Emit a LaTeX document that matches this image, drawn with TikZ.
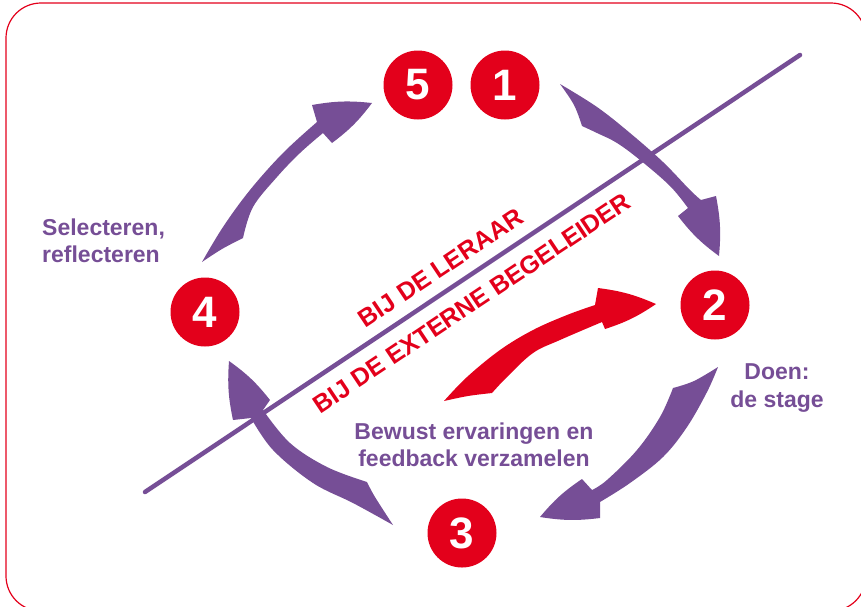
\documentclass[tikz,border=0pt]{standalone}
\usepackage{fontspec}
\setmainfont{Liberation Sans}
\definecolor{cyclepurple}{RGB}{118,78,150}
\definecolor{cyclered}{RGB}{227,0,27}

\begin{document}
\begin{tikzpicture}[x=1pt,y=-1pt,
  stepdisc/.style={circle,fill=cyclered,minimum size=69pt,inner sep=0pt,
    text=white,font=\fontsize{44}{44}\selectfont\bfseries},
  phaselabel/.style={text=cyclepurple,inner sep=0pt,
    font=\fontsize{23}{27.5}\selectfont\bfseries},
  sidelabel/.style={text=cyclered,inner sep=0pt,rotate=33.7,
    font=\fontsize{25}{25}\selectfont\bfseries},
  cyclearrow/.style={fill=cyclepurple},
  edge/.style={smooth,tension=0.6}]

\useasboundingbox (0,0) rectangle (861,606);

% frame
\draw[cyclered,line width=1.2pt,rounded corners=35pt] (6,3) rectangle (866,611);

% tapered arrow 1 -> 2
\fill[cyclearrow]
  plot[edge] coordinates {(560,84) (597,107) (630,133) (663,162) (690,190) (701,200)}
  -- (716,196) to[bend left=8] (719,256) to[bend left=8] (678,216) -- (688,208)
  -- plot[edge] coordinates {(688,208) (670,186) (640,160) (617,143) (597,133) (582,126)}
  -- plot[edge] coordinates {(582,126) (574,105) (560,84)} -- cycle;

% tapered arrow 2 -> 3
\fill[cyclearrow]
  plot[edge] coordinates {(718,367) (707,392) (687,427) (663,457) (630,483) (600,502)}
  -- (600,518) to[bend left=8] (540,517) to[bend left=8] (582,479) -- (592,490)
  -- plot[edge] coordinates {(592,490) (607,480) (637,450) (660,417) (673,388)}
  -- plot[edge] coordinates {(673,388) (694,381) (718,367)} -- cycle;

% tapered arrow 3 -> 4
\fill[cyclearrow]
  plot[edge] coordinates {(393,525) (353,503) (313,483) (273,450) (251,418)}
  -- (233,420) to[bend left=8] (229,361) to[bend left=8] (270,400) -- (263,410)
  -- plot[edge] coordinates {(263,410) (290,443) (327,467) (367,482)}
  -- plot[edge] coordinates {(367,482) (375,497) (393,525)} -- cycle;

% tapered arrow 4 -> 5
\fill[cyclearrow]
  plot[edge] coordinates {(202,262) (223,227) (250,190) (283,153) (317,122)}
  -- (312,105) to[bend left=8] (372,103) to[bend left=8] (332,143) -- (323,133)
  -- plot[edge] coordinates {(323,133) (300,153) (277,177) (253,207) (243,238)}
  -- plot[edge] coordinates {(243,238) (222,249) (202,262)} -- cycle;

% red arrow towards step 2
\fill[cyclered]
  plot[edge] coordinates {(444,401) (467,377) (500,350) (533,330) (567,315) (595,305)}
  -- (598,288) to[bend left=8] (656,304) to[bend left=8] (605,329) -- (602,322)
  -- plot[edge] coordinates {(602,322) (560,340) (533,353) (507,377) (492,393)}
  -- plot[edge] coordinates {(492,393) (468,396) (444,401)} -- cycle;

% dividing line
\coordinate (divA) at (145,492);
\coordinate (divB) at (800,55);
\draw[cyclepurple,line width=4.5pt,line cap=round] (divA) -- (divB);

\node[sidelabel] (leraar) at (441,268) {BIJ DE LERAAR};
\node[sidelabel] (extern) at (472,303) {BIJ DE EXTERNE BEGELEIDER};

% numbered steps
\node[stepdisc] (s5) at (418,85) {5};
\node[stepdisc] (s1) at (505,85) {1};
\node[stepdisc] (s2) at (715,305) {2};
\node[stepdisc] (s3) at (462,533) {3};
\node[stepdisc] (s4) at (205,312) {4};

% phase labels
\node[phaselabel,align=left,anchor=west] (sel) at (42,241) {Selecteren,\\reflecteren};
\node[phaselabel,align=center] (doen) at (777,388) {Doen:\\de stage};
\node[phaselabel,align=center] (bewust) at (474,445) {Bewust ervaringen en\\feedback verzamelen};

\end{tikzpicture}
\end{document}
